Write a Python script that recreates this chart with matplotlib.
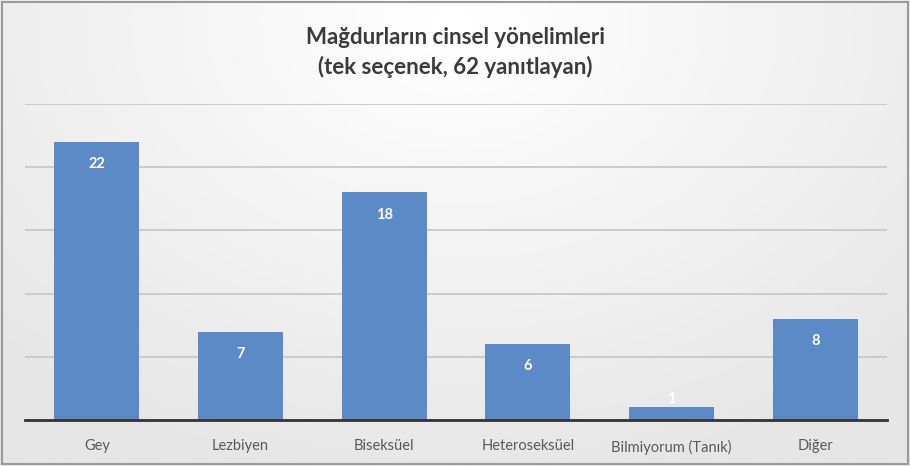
import numpy as np
import matplotlib.pyplot as plt

categories = ["Gey", "Lezbiyen", "Biseksüel", "Heteroseksüel", "Bilmiyorum (Tanık)", "Diğer"]
counts = [22, 7, 18, 6, 1, 8]
title = "Mağdurların cinsel yönelimleri\n(tek seçenek, 62 yanıtlayan)"

plt.rcParams["font.family"] = ["Lato", "DejaVu Sans"]

fig = plt.figure(figsize=(9.1, 4.66), dpi=100)

# soft grey background, lighter towards the top centre
bg = fig.add_axes([0, 0, 1, 1], zorder=-10)
yy, xx = np.mgrid[0:1:200j, 0:1:400j]
shade = 1 - 0.1 * np.clip(np.sqrt(((xx - 0.5) / 0.7) ** 2 + ((yy - 0.05) / 1.0) ** 2), 0, 1)
bg.imshow(shade, cmap="gray", vmin=0, vmax=1, aspect="auto", extent=[0, 1, 1, 0])
bg.set_axis_off()
bg.add_patch(plt.Rectangle((0.002, 0.004), 0.996, 0.992, transform=bg.transAxes,
                           fill=False, edgecolor="#9a9a9a", lw=1.5))

ax = fig.add_axes([25 / 910, 46 / 466, 862 / 910, 316 / 466])
ax.patch.set_alpha(0)
x = np.arange(len(categories))
ax.bar(x, counts, width=0.59, color="#5b8ac6", zorder=3)
ax.set_xlim(-0.5, len(categories) - 0.5)
ax.set_ylim(0, 25)
ax.set_yticks(np.arange(0, 26, 5))
ax.yaxis.grid(True, color="#c8c8c8", lw=1.3)
ax.tick_params(axis="y", left=False, labelleft=False)
ax.tick_params(axis="x", length=0, pad=14, labelsize=10.5, labelcolor="#595959")
ax.set_xticks(x, categories)
for side in ["top", "right", "left"]:
    ax.spines[side].set_visible(False)
ax.spines["bottom"].set_color("#333333")
ax.spines["bottom"].set_linewidth(2)
ax.spines["bottom"].set_zorder(4)

for xi, v in zip(x, counts):
    yt = v - 1.75 if v > 3 else v + 0.7
    ax.text(xi, yt, str(v), ha="center", va="center", color="white",
            fontsize=10.5, fontweight="bold", zorder=5)

fig.text(0.5, 0.887, title, ha="center", va="center", fontsize=16, fontweight="bold",
         color="#3a3a3a", linespacing=1.45)

fig.savefig("out.png", dpi=100)
